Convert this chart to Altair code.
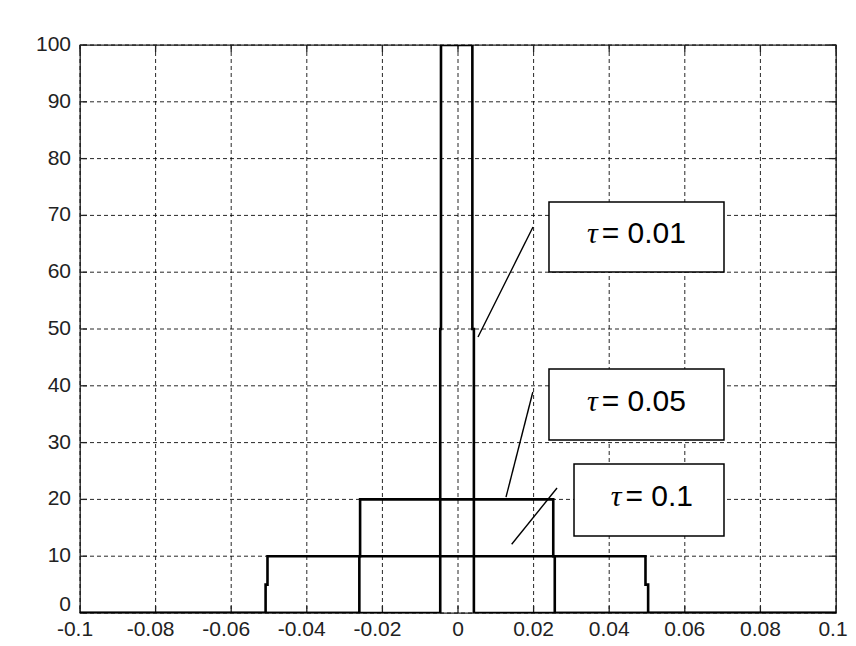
import altair as alt
import pandas as pd

# ---------------- data ----------------
X_TICKS = [-0.1, -0.08, -0.06, -0.04, -0.02, 0.0, 0.02, 0.04, 0.06, 0.08, 0.1]
X_TICK_LABELS = ["-0.1", "-0.08", "-0.06", "-0.04", "-0.02", "0", "0.02", "0.04", "0.06", "0.08", "0.1"]
Y_TICKS = [0, 10, 20, 30, 40, 50, 60, 70, 80, 90, 100]
Y_TICK_LABELS = ["0", "10", "20", "30", "40", "50", "60", "70", "80", "90", "100"]

TAU_LABELS = ["0.01", "0.05", "0.1"]

# rectangular pulses (height 1/tau), as sampled in the figure
PULSE_X_TAU001 = [-0.1, -0.0047, -0.0047, -0.0045, -0.0045, 0.0038, 0.0038, 0.0042, 0.0042, 0.1]
PULSE_Y_TAU001 = [0, 0, 50, 50, 100, 100, 50, 50, 0, 0]
PULSE_X_TAU005 = [-0.1, -0.0261, -0.0261, -0.0259, -0.0259, 0.0252, 0.0252, 0.0256, 0.0256, 0.1]
PULSE_Y_TAU005 = [0, 0, 10, 10, 20, 20, 10, 10, 0, 0]
PULSE_X_TAU01 = [-0.1, -0.0509, -0.0509, -0.0504, -0.0504, 0.0496, 0.0496, 0.0503, 0.0503, 0.1]
PULSE_Y_TAU01 = [0, 0, 5, 5, 10, 10, 5, 5, 0, 0]

# annotation layout (data coordinates)
ANNOTATIONS = [
    dict(tau="0.01", bx1=0.02407, bx2=0.07037, by1=60.04, by2=72.36,
         tx=0.0380, ty=65.2, lx1=0.00529, ly1=48.6, lx2=0.01984, ly2=67.96),
    dict(tau="0.05", bx1=0.02407, bx2=0.07037, by1=30.46, by2=42.96,
         tx=0.0380, ty=35.6, lx1=0.0127, ly1=20.4, lx2=0.0198, ly2=38.9),
    dict(tau="0.1", bx1=0.03069, bx2=0.07037, by1=13.56, by2=26.23,
         tx=0.0443, ty=18.9, lx1=0.0142, ly1=12.1, lx2=0.0262, ly2=22.0),
]

# ---------------- tables ----------------
rows = []
for tau, xs_, ys_ in [("0.01", PULSE_X_TAU001, PULSE_Y_TAU001),
                      ("0.05", PULSE_X_TAU005, PULSE_Y_TAU005),
                      ("0.1", PULSE_X_TAU01, PULSE_Y_TAU01)]:
    for i, (xv, yv) in enumerate(zip(xs_, ys_)):
        rows.append({"tau": tau, "x": xv, "y": yv, "i": i})
curves_df = pd.DataFrame(rows)

xt_df = pd.DataFrame({"x": X_TICKS, "label": X_TICK_LABELS})
yt_df = pd.DataFrame({"y": Y_TICKS, "label": Y_TICK_LABELS})
ann_df = pd.DataFrame(ANNOTATIONS)
ann_df["text"] = "= " + ann_df["tau"]
ann_df["tauchar"] = "\u03c4"

W, H = 756, 568
FONT = "Liberation Sans"
xs = alt.Scale(domain=[-0.1, 0.1], nice=False, zero=False)
ys = alt.Scale(domain=[0, 100], nice=False, zero=False)

def X(f):
    return alt.X(f, type="quantitative", scale=xs, axis=None)

def Y(f):
    return alt.Y(f, type="quantitative", scale=ys, axis=None)

grid_v = alt.Chart(xt_df).mark_rule(color="#000", strokeWidth=1, strokeDash=[4, 3], opacity=0.85).encode(x=X("x"))
grid_h = alt.Chart(yt_df).mark_rule(color="#000", strokeWidth=1, strokeDash=[4, 3], opacity=0.85).encode(y=Y("y"))

tick_style = dict(color="#222", strokeWidth=1.3)
t_top = alt.Chart(xt_df).mark_rule(**tick_style).encode(x=X("x"), y=alt.value(0), y2=alt.value(7))
t_bot = alt.Chart(xt_df).mark_rule(**tick_style).encode(x=X("x"), y=alt.value(H - 7), y2=alt.value(H))
t_left = alt.Chart(yt_df).mark_rule(**tick_style).encode(y=Y("y"), x=alt.value(0), x2=alt.value(7))
t_right = alt.Chart(yt_df).mark_rule(**tick_style).encode(y=Y("y"), x=alt.value(W - 7), x2=alt.value(W))

lab_style = dict(font=FONT, fontSize=21, color="#222")
xlab_pos = alt.Chart(xt_df).transform_filter("datum.x >= 0 && datum.x < 0.099").mark_text(
    align="center", baseline="middle", **lab_style).encode(x=X("x"), y=alt.value(H + 17), text="label:N")
xlab_end = alt.Chart(xt_df).transform_filter("datum.x >= 0.099").mark_text(
    align="center", baseline="middle", dx=-3, **lab_style).encode(x=X("x"), y=alt.value(H + 17), text="label:N")
xlab_neg = alt.Chart(xt_df).transform_filter("datum.x < 0").mark_text(
    align="center", baseline="middle", dx=-5, **lab_style).encode(x=X("x"), y=alt.value(H + 17), text="label:N")
ylab = alt.Chart(yt_df).transform_filter("datum.y > 0").mark_text(
    align="right", baseline="middle", **lab_style).encode(y=Y("y"), x=alt.value(-9), text="label:N")
ylab0 = alt.Chart(yt_df).transform_filter("datum.y == 0").mark_text(
    align="right", baseline="middle", dy=-8, **lab_style).encode(y=Y("y"), x=alt.value(-9), text="label:N")

curves = alt.Chart(curves_df).mark_line(color="#000", strokeWidth=2.6, clip=True, strokeJoin="miter").encode(
    x=X("x"), y=Y("y"), detail="tau:N", order="i:Q")

leaders = alt.Chart(ann_df).mark_rule(color="#000", strokeWidth=1.4).encode(
    x=X("lx1"), y=Y("ly1"), x2="lx2", y2="ly2")
boxes = alt.Chart(ann_df).mark_rect(fill="white", stroke="#000", strokeWidth=1.5).encode(
    x=X("bx1"), x2="bx2", y=Y("by1"), y2="by2")
ann_txt = alt.Chart(ann_df).mark_text(align="left", baseline="alphabetic", font=FONT, fontSize=30, color="#000").encode(
    x=X("tx"), y=Y("ty"), text="text:N")
ann_tau = alt.Chart(ann_df).mark_text(align="right", baseline="alphabetic", font="Liberation Serif",
                                      fontStyle="italic", fontSize=30, color="#000", dx=-4).encode(
    x=X("tx"), y=Y("ty"), text="tauchar:N")

chart = alt.layer(
    grid_v, grid_h, t_top, t_bot, t_left, t_right,
    xlab_pos, xlab_end, xlab_neg, ylab, ylab0,
    curves, leaders, boxes, ann_txt, ann_tau,
).properties(
    width=W, height=H,
    autosize=alt.AutoSizeParams(type="none"),
    padding={"left": 72, "top": 37, "right": 12, "bottom": 31},
    background="white",
).configure_view(stroke="#222", strokeWidth=1.3)

chart.save("out.html", embed_options={"renderer": "svg", "actions": False})
